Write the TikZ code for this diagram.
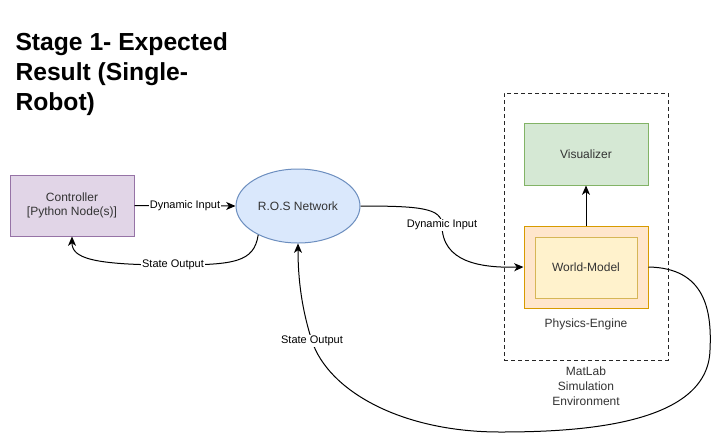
\documentclass[tikz,border=0pt]{standalone}
\usepackage{fontspec}
\setmainfont{Liberation Sans}
\usetikzlibrary{arrows.meta,shapes.geometric}
\definecolor{ctrlfill}{HTML}{E1D5E7}\definecolor{ctrldraw}{HTML}{9673A6}
\definecolor{rosfill}{HTML}{DAE8FC}\definecolor{rosdraw}{HTML}{6C8EBF}
\definecolor{visfill}{HTML}{D5E8D4}\definecolor{visdraw}{HTML}{82B366}
\definecolor{pefill}{HTML}{FFE6CC}\definecolor{pedraw}{HTML}{D79B00}
\definecolor{wmfill}{HTML}{FFF2CC}\definecolor{wmdraw}{HTML}{D6B656}
\definecolor{txt}{HTML}{333333}
\begin{document}
\begin{tikzpicture}[x=0.75pt,y=-0.75pt,line width=0.75pt,
  boxtext/.style={font=\fontsize{9}{11}\selectfont, text=txt, align=center, inner sep=0pt},
  lbl/.style={font=\fontsize{8.25}{10}\selectfont, fill=white, inner sep=0.8pt, text=black},
  titletext/.style={font=\fontsize{18.5}{22}\selectfont\bfseries, anchor=base west, inner sep=0pt},
  conn/.style={draw=black, -{Stealth[length=7pt,width=6pt,inset=2pt]}},
  plain/.style={font=\fontsize{9}{11.25}\selectfont, text=txt, align=center, inner sep=0pt}]
\useasboundingbox (0,0) rectangle (721,444);
\fill[white] (0,0) rectangle (721,444);

% title
\node[titletext] (title1) at (15,50) {Stage 1- Expected};
\node[titletext] (title2) at (15,80) {Result (Single-};
\node[titletext] (title3) at (15,110) {Robot)};

% dashed environment box
\node[draw=black!85, dash pattern=on 3pt off 2.25pt, minimum width=123pt, minimum height=200.25pt, inner sep=0pt] (env) at (586,226.5) {};

% nodes
\node[boxtext, draw=ctrldraw, fill=ctrlfill, minimum width=93pt, minimum height=45.75pt] (ctrl) at (72,205.5) {Controller\\{}[Python Node(s)]};
\node[boxtext, ellipse, draw=rosdraw, fill=rosfill, minimum width=93pt, minimum height=55.5pt] (ros) at (298,206) {R.O.S Network};
\node[boxtext, draw=visdraw, fill=visfill, minimum width=93pt, minimum height=46.5pt] (vis) at (586,154) {Visualizer};
\node[draw=pedraw, fill=pefill, minimum width=93pt, minimum height=61.5pt, inner sep=0pt] (pe) at (586,267) {};
\node[boxtext, draw=wmdraw, fill=wmfill, minimum width=76.5pt, minimum height=45.75pt] (wm) at (586,267.5) {World-Model};

\node[plain] (pelabel) at (586,324) {Physics-Engine};
\node[plain] (envlabel) at (586,386) {MatLab\\Simulation\\Environment};

% connectors
\draw[conn] (ctrl.east) -- node[lbl, pos=0.5]{Dynamic Input} (ros.west);
\draw[conn] (ros.216) .. controls (254,262) and (235,265) .. (173,265) node[lbl]{State Output}
   .. controls (92,265) and (72,258) .. (ctrl.south);
\draw[conn] (ros.east) .. controls (420,206) and (442,208) .. (442,225) node[lbl]{Dynamic Input}
   .. controls (442,262) and (480,268) .. (pe.west);
\draw[conn] (pe.north) -- (vis.south);
\draw[conn] (pe.east) .. controls (705,268) and (712,310) .. (710,350)
   .. controls (708,425) and (580,432) .. (500,432)
   .. controls (400,432) and (328,390) .. (312,341) node[lbl]{State Output}
   .. controls (302,310) and (298,280) .. (ros.south);
\end{tikzpicture}
\end{document}
